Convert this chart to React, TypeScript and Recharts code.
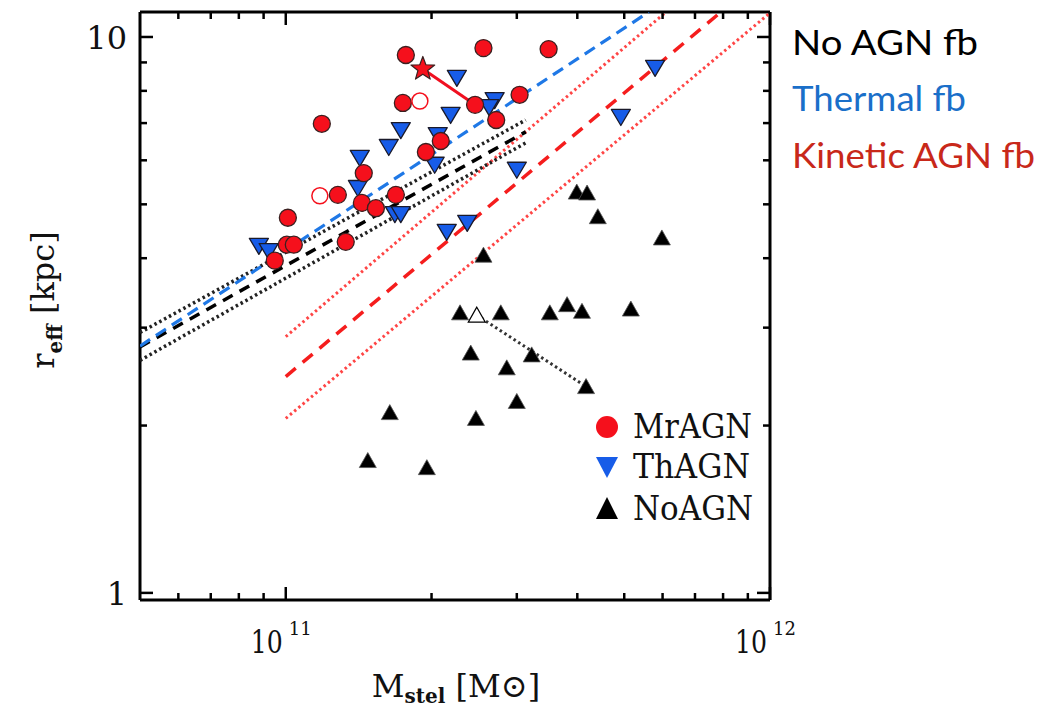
import React from "react";
import { ScatterChart, Scatter, XAxis, YAxis } from "recharts";

const X_DOMAIN: [number, number] = [5e10, 1e12];
const Y_DOMAIN: [number, number] = [0.971, 11.09];

const xTicks = [6e10, 7e10, 8e10, 9e10, 1e11, 2e11, 3e11, 4e11, 5e11, 6e11, 7e11, 8e11, 9e11, 1e12];
const yTicks = [1, 2, 3, 4, 5, 6, 7, 8, 9, 10];

// [M_stel (Msun), r_eff (kpc)]
const mrAgn: [number, number][] = [
  [1.77e11, 9.28], [2.56e11, 9.55], [3.49e11, 9.51], [1.745e11, 7.61], [2.46e11, 7.55],
  [3.04e11, 7.87], [2.72e11, 7.09], [1.187e11, 6.98], [2.09e11, 6.5], [1.947e11, 6.21],
  [1.449e11, 5.69], [1.281e11, 5.2], [1.436e11, 5.03], [1.535e11, 4.92], [1.688e11, 5.2],
  [1.01e11, 4.73], [1.005e11, 4.23], [1.039e11, 4.23], [1.33e11, 4.28], [9.49e10, 3.96],
];
const mrAgnOpen: [number, number][] = [[1.892e11, 7.67], [1.176e11, 5.18]];
const mrAgnStar: [number, number][] = [[1.919e11, 8.76]];
const starLink: [number, number][] = [[1.919e11, 8.76], [2.46e11, 7.55]];

const thAgn: [number, number][] = [
  [2.256e11, 8.44], [5.79e11, 8.8], [2.7e11, 7.7], [2.63e11, 7.48], [2.19e11, 7.24],
  [4.92e11, 7.18], [1.728e11, 6.8], [1.632e11, 6.34], [1.422e11, 6.06], [2.06e11, 6.66],
  [2.03e11, 5.89], [3.0e11, 5.77], [1.409e11, 5.35], [1.68e11, 4.8], [1.728e11, 4.8],
  [8.8e10, 4.21], [9.22e10, 4.12], [2.15e11, 4.46], [2.37e11, 4.63],
];

const noAgn: [number, number][] = [
  [3.99e11, 5.26], [4.19e11, 5.24], [4.41e11, 4.75], [5.98e11, 4.35], [2.56e11, 4.05],
  [2.29e11, 3.19], [2.78e11, 3.19], [3.51e11, 3.19], [3.81e11, 3.3], [4.09e11, 3.21],
  [5.16e11, 3.24], [2.41e11, 2.7], [3.22e11, 2.68], [2.86e11, 2.54], [4.17e11, 2.35],
  [3.0e11, 2.21], [2.47e11, 2.06], [1.64e11, 2.11], [1.477e11, 1.73], [1.956e11, 1.68],
];
const noAgnOpen: [number, number][] = [[2.48e11, 3.16]];
const noAgnLink: [number, number][] = [[2.48e11, 3.16], [4.17e11, 2.35]];

// fitted relations
const thermalFit: [number, number][] = [[5e10, 2.78], [5.62e11, 11.09]];
const noAgnFit: [number, number][] = [[5e10, 2.77], [3.13e11, 6.75]];
const noAgnFitHi: [number, number][] = [[5e10, 2.94], [3.13e11, 7.09]];
const noAgnFitLo: [number, number][] = [[5e10, 2.62], [3.13e11, 6.45]];
const kineticFit: [number, number][] = [[1e11, 2.45], [7.92e11, 11.09]];
const kineticFitHi: [number, number][] = [[1e11, 2.89], [6.1e11, 11.09]];
const kineticFitLo: [number, number][] = [[1e11, 2.06], [1e12, 11.05]];

const toPts = (a: [number, number][]) => a.map(([x, y]) => ({ x, y }));

const SERIF = "'DejaVu Serif', 'Liberation Serif', serif";
const SANS = "Lato, 'Open Sans', sans-serif";
const RED = "#f5101c";
const BLUE = "#175ce8";
const EDGE = "#3a2020";

const isDecade = (v: number) => Math.abs(Math.log10(v) - Math.round(Math.log10(v))) < 1e-9;

const Nothing = () => <g />;

const RedDot = (p: any) => <circle cx={p.cx} cy={p.cy} r={8.5} fill={RED} stroke={EDGE} strokeWidth={1.3} />;
const RedRing = (p: any) => <circle cx={p.cx} cy={p.cy} r={8} fill="#fff" stroke={RED} strokeWidth={1.5} />;
const DownTri = (p: any) => (
  <polygon
    points={`${p.cx - 9.5},${p.cy - 7.5} ${p.cx + 9.5},${p.cy - 7.5} ${p.cx},${p.cy + 8.5}`}
    fill={BLUE}
    stroke="#1a1a2a"
    strokeWidth={1.3}
    strokeLinejoin="round"
  />
);
const UpTri = (p: any) => (
  <polygon
    points={`${p.cx},${p.cy - 8} ${p.cx - 8.5},${p.cy + 7} ${p.cx + 8.5},${p.cy + 7}`}
    fill="#000"
    stroke="#555"
    strokeWidth={0.8}
  />
);
const UpTriOpen = (p: any) => (
  <polygon
    points={`${p.cx},${p.cy - 8} ${p.cx - 8.5},${p.cy + 7} ${p.cx + 8.5},${p.cy + 7}`}
    fill="#fff"
    stroke="#000"
    strokeWidth={1.2}
  />
);
const Star = (p: any) => {
  const pts: string[] = [];
  for (let i = 0; i < 10; i++) {
    const r = i % 2 === 0 ? 12.5 : 5.2;
    const a = -Math.PI / 2 + (i * Math.PI) / 5;
    pts.push(`${p.cx + r * Math.cos(a)},${p.cy + r * Math.sin(a)}`);
  }
  return <polygon points={pts.join(" ")} fill={RED} stroke={EDGE} strokeWidth={1.2} strokeLinejoin="round" />;
};

function BottomTick({ x, y, payload }: any) {
  const major = isDecade(payload.value);
  const exp = Math.round(Math.log10(payload.value));
  return (
    <g>
      <line x1={x} x2={x} y1={y} y2={y - (major ? 13 : 7)} stroke="#000" strokeWidth={2.5} />
      {major && (
        <g fontFamily={SERIF} fill="#111">
          <text x={x - 3} y={y + 53} textAnchor="end" fontSize={32} textLength={32} lengthAdjust="spacingAndGlyphs">
            10
          </text>
          <text x={x + 3} y={y + 35} fontSize={18}>
            {exp}
          </text>
        </g>
      )}
    </g>
  );
}

function TopTick({ x, y, payload }: any) {
  const major = isDecade(payload.value);
  return <line x1={x} x2={x} y1={y} y2={y + (major ? 13 : 7)} stroke="#000" strokeWidth={2.5} />;
}

function LeftTick({ x, y, payload }: any) {
  const major = isDecade(payload.value);
  return (
    <g>
      <line x1={x} x2={x + (major ? 13 : 7)} y1={y} y2={y} stroke="#000" strokeWidth={2.5} />
      {major && (
        <text x={x - 13} y={y + 12} textAnchor="end" fontFamily={SERIF} fontSize={32} fill="#111">
          {payload.value}
        </text>
      )}
    </g>
  );
}

function RightTick({ x, y, payload }: any) {
  const major = isDecade(payload.value);
  return <line x1={x} x2={x - (major ? 13 : 7)} y1={y} y2={y} stroke="#000" strokeWidth={2.5} />;
}

const frame = { stroke: "#000", strokeWidth: 3 };

export default function App() {
  return (
    <div style={{ position: "absolute", left: 0, top: 0, width: 1040, height: 709, background: "#fff" }}>
      <ScatterChart width={1040} height={709} margin={{ top: 11, right: 269, bottom: 108, left: 139 }}>
        <XAxis
          dataKey="x"
          type="number"
          scale="log"
          domain={X_DOMAIN}
          allowDataOverflow
          ticks={xTicks}
          interval={0}
          height={1}
          tickSize={0}
          tickMargin={0}
          tickLine={false}
          axisLine={frame}
          tick={<BottomTick />}
        />
        <XAxis
          xAxisId="top"
          orientation="top"
          dataKey="x"
          type="number"
          scale="log"
          domain={X_DOMAIN}
          allowDataOverflow
          ticks={xTicks}
          interval={0}
          height={1}
          tickSize={0}
          tickMargin={0}
          tickLine={false}
          axisLine={frame}
          tick={<TopTick />}
        />
        <YAxis
          dataKey="y"
          type="number"
          scale="log"
          domain={Y_DOMAIN}
          allowDataOverflow
          ticks={yTicks}
          interval={0}
          width={1}
          tickSize={0}
          tickMargin={0}
          tickLine={false}
          axisLine={frame}
          tick={<LeftTick />}
        />
        <YAxis
          yAxisId="right"
          orientation="right"
          dataKey="y"
          type="number"
          scale="log"
          domain={Y_DOMAIN}
          allowDataOverflow
          ticks={yTicks}
          interval={0}
          width={1}
          tickSize={0}
          tickMargin={0}
          tickLine={false}
          axisLine={frame}
          tick={<RightTick />}
        />

        <Scatter data={toPts(kineticFitHi)} shape={Nothing} line={{ stroke: "#ff4545", strokeWidth: 3, strokeDasharray: "2.5 3" }} isAnimationActive={false} />
        <Scatter data={toPts(kineticFitLo)} shape={Nothing} line={{ stroke: "#ff4545", strokeWidth: 3, strokeDasharray: "2.5 3" }} isAnimationActive={false} />
        <Scatter data={toPts(kineticFit)} shape={Nothing} line={{ stroke: "#f51d1d", strokeWidth: 3.5, strokeDasharray: "13 9" }} isAnimationActive={false} />
        <Scatter data={toPts(noAgnFitHi)} shape={Nothing} line={{ stroke: "#222", strokeWidth: 3.5, strokeDasharray: "2.5 3" }} isAnimationActive={false} />
        <Scatter data={toPts(noAgnFitLo)} shape={Nothing} line={{ stroke: "#222", strokeWidth: 3.5, strokeDasharray: "2.5 3" }} isAnimationActive={false} />
        <Scatter data={toPts(noAgnFit)} shape={Nothing} line={{ stroke: "#000", strokeWidth: 3.5, strokeDasharray: "11 8" }} isAnimationActive={false} />
        <Scatter data={toPts(thermalFit)} shape={Nothing} line={{ stroke: "#1f78e6", strokeWidth: 3.2, strokeDasharray: "12 7" }} isAnimationActive={false} />

        <Scatter data={toPts(noAgnLink)} shape={Nothing} line={{ stroke: "#333", strokeWidth: 3, strokeDasharray: "2.5 3" }} isAnimationActive={false} />
        <Scatter data={toPts(noAgn)} shape={UpTri} isAnimationActive={false} />
        <Scatter data={toPts(noAgnOpen)} shape={UpTriOpen} isAnimationActive={false} />
        <Scatter data={toPts(thAgn)} shape={DownTri} isAnimationActive={false} />
        <Scatter data={toPts(starLink)} shape={Nothing} line={{ stroke: "#f01020", strokeWidth: 3 }} isAnimationActive={false} />
        <Scatter data={toPts(mrAgn)} shape={RedDot} isAnimationActive={false} />
        <Scatter data={toPts(mrAgnOpen)} shape={RedRing} isAnimationActive={false} />
        <Scatter data={toPts(mrAgnStar)} shape={Star} isAnimationActive={false} />
      </ScatterChart>

      <svg width={1040} height={709} style={{ position: "absolute", left: 0, top: 0, pointerEvents: "none" }}>
        {/* axis titles */}
        <text x={456} y={697} textAnchor="middle" fontFamily={SERIF} fontSize={32} fill="#111">
          M<tspan dy={6} fontSize={20} fontWeight="bold">stel</tspan>
          <tspan dy={-6}> [M⊙]</tspan>
        </text>
        <text transform="translate(54,300) rotate(-90)" textAnchor="middle" fontFamily={SERIF} fontSize={32} fill="#111">
          r<tspan dy={8} fontSize={20} fontWeight="bold">eff</tspan>
          <tspan dy={-8}> [kpc]</tspan>
        </text>

        {/* inner legend */}
        <circle cx={607} cy={427} r={11} fill={RED} />
        <polygon points="596,457 618,457 607,478" fill={BLUE} />
        <polygon points="607,497 596,519 618,519" fill="#000" />
        <text x={633} y={438} fontFamily={SERIF} fontSize={33} fill="#111" textLength={119} lengthAdjust="spacingAndGlyphs">MrAGN</text>
        <text x={633} y={478} fontFamily={SERIF} fontSize={33} fill="#111" textLength={117} lengthAdjust="spacingAndGlyphs">ThAGN</text>
        <text x={633} y={520} fontFamily={SERIF} fontSize={33} fill="#111" textLength={120} lengthAdjust="spacingAndGlyphs">NoAGN</text>

        {/* side annotations */}
        <text x={792} y={55} fontFamily={SANS} fontSize={34} fill="#000" textLength={186} lengthAdjust="spacingAndGlyphs">No AGN fb</text>
        <text x={792} y={111} fontFamily={SANS} fontSize={34} fill="#1a6fc9" textLength={174} lengthAdjust="spacingAndGlyphs">Thermal fb</text>
        <text x={792} y={168} fontFamily={SANS} fontSize={34} fill="#c8281a" textLength={243} lengthAdjust="spacingAndGlyphs">Kinetic AGN fb</text>
      </svg>
    </div>
  );
}
